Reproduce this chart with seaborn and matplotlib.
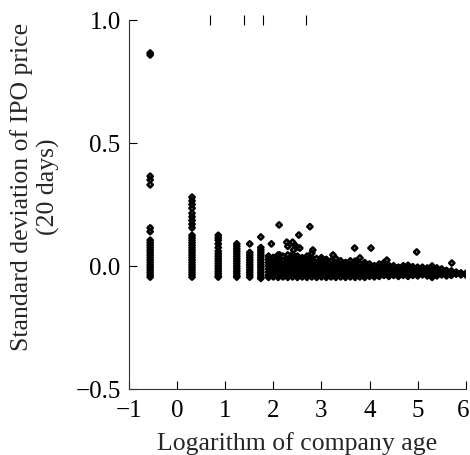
import matplotlib
matplotlib.use("Agg")
import matplotlib.pyplot as plt
import matplotlib.transforms as mtransforms
import seaborn as sns
import pandas as pd

# ---- data ----
# discrete columns of young companies
col_x = [-0.56, 0.31, 0.855, 1.24, 1.51, 1.74]
col_y = [
    [0.866, 0.858, 0.365, 0.35, 0.33, 0.155, 0.14, 0.105, 0.095, 0.085, 0.075,
     0.065, 0.055, 0.045, 0.035, 0.025, 0.015, 0.005, -0.005, -0.015, -0.025,
     -0.035, -0.045],
    [0.28, 0.265, 0.25, 0.235, 0.215, 0.20, 0.185, 0.17, 0.155, 0.125, 0.115,
     0.105, 0.095, 0.085, 0.075, 0.065, 0.055, 0.045, 0.035, 0.025, 0.015,
     0.005, -0.005, -0.015, -0.025, -0.035, -0.045],
    [0.125, 0.115, 0.105, 0.09, 0.075, 0.06, 0.05, 0.04, 0.03, 0.02, 0.01,
     0.00, -0.01, -0.02, -0.03, -0.04, -0.045],
    [0.09, 0.08, 0.07, 0.06, 0.05, 0.04, 0.03, 0.02, 0.01, 0.00, -0.01,
     -0.02, -0.03, -0.04, -0.045],
    [0.09, 0.055, 0.045, 0.035, 0.025, 0.015, 0.005, -0.005, -0.015, -0.025,
     -0.035, -0.045],
    [0.118, 0.075, 0.065, 0.055, 0.045, 0.035, 0.025, 0.015, 0.005, -0.005,
     -0.015, -0.025, -0.035, -0.045, -0.05],
]

# dense band of older companies: x positions and the y values at each
band_x = [1.9, 2.0, 2.1, 2.2, 2.3, 2.4, 2.5, 2.6, 2.7, 2.8, 2.9, 3.0, 3.1,
          3.2, 3.3, 3.4, 3.5, 3.6, 3.7, 3.8, 3.9, 4.0, 4.1, 4.2, 4.3, 4.4,
          4.5, 4.6, 4.7, 4.8, 4.9, 5.0, 5.1, 5.2, 5.3, 5.4, 5.5, 5.6, 5.7,
          5.8, 5.9, 6.0]
band_y = [
    [0.040, 0.027, 0.014, 0.001, -0.012, -0.025, -0.038, -0.046],
    [0.035, 0.021, 0.008, -0.005, -0.018, -0.031, -0.044],
    [0.045, 0.027, 0.014, 0.001, -0.012, -0.025, -0.038, -0.046],
    [0.040, 0.021, 0.008, -0.005, -0.018, -0.031, -0.044],
    [0.045, 0.027, 0.014, 0.001, -0.012, -0.025, -0.038, -0.046],
    [0.047, 0.034, 0.021, 0.008, -0.005, -0.018, -0.031, -0.044],
    [0.040, 0.027, 0.014, 0.001, -0.012, -0.025, -0.038, -0.046],
    [0.034, 0.021, 0.008, -0.005, -0.018, -0.031, -0.044],
    [0.040, 0.027, 0.014, 0.001, -0.012, -0.025, -0.038, -0.046],
    [0.052, 0.034, 0.021, 0.008, -0.005, -0.018, -0.031, -0.044],
    [0.030, 0.014, 0.001, -0.012, -0.025, -0.038, -0.046],
    [0.034, 0.021, 0.008, -0.005, -0.018, -0.031, -0.044],
    [0.027, 0.014, 0.001, -0.012, -0.025, -0.038, -0.046],
    [0.021, 0.008, -0.005, -0.018, -0.031, -0.044],
    [0.030, 0.014, 0.001, -0.012, -0.025, -0.038, -0.046],
    [0.021, 0.008, -0.005, -0.018, -0.031, -0.044],
    [0.014, 0.001, -0.012, -0.025, -0.038, -0.046],
    [0.021, 0.008, -0.005, -0.018, -0.031, -0.044],
    [0.020, 0.014, 0.001, -0.012, -0.025, -0.038, -0.046],
    [0.008, -0.005, -0.018, -0.031, -0.044],
    [0.014, 0.001, -0.012, -0.025, -0.038, -0.046],
    [0.008, -0.005, -0.018, -0.031, -0.042],
    [0.001, -0.012, -0.025, -0.038, -0.044],
    [0.008, -0.005, -0.018, -0.031, -0.042],
    [0.014, 0.001, -0.012, -0.025, -0.038],
    [0.003, -0.005, -0.018, -0.031, -0.042],
    [0.001, -0.012, -0.025, -0.038],
    [-0.005, -0.018, -0.031, -0.042],
    [0.001, -0.012, -0.025, -0.038],
    [0.003, -0.005, -0.018, -0.031, -0.042],
    [-0.003, -0.012, -0.025, -0.038],
    [-0.005, -0.018, -0.031, -0.040],
    [-0.005, -0.012, -0.025, -0.036],
    [-0.008, -0.018, -0.031, -0.040],
    [0.000, -0.012, -0.025, -0.036, -0.046],
    [-0.008, -0.018, -0.031, -0.040],
    [-0.012, -0.025, -0.036],
    [-0.018, -0.031, -0.040],
    [-0.020, -0.030, -0.038],
    [-0.025, -0.033],
    [-0.028, -0.036],
    [-0.030, -0.036],
]

# scattered higher points above the band
out_x = [2.12, 2.76, 2.53, 1.96, 2.28, 2.40, 2.48, 2.42, 2.55, 2.82,
         3.69, 4.03, 4.98, 5.71, 3.24, 2.13, 3.80, 4.36, 2.30, 2.45]
out_y = [0.167, 0.160, 0.126, 0.090, 0.097, 0.097, 0.077, 0.065, 0.073, 0.065,
         0.073, 0.073, 0.057, 0.012, 0.045, 0.045, 0.033, 0.024, 0.080, 0.085]

top_marks = [0.69, 1.40, 1.79, 2.67]

x_ticks = [-1, 0, 1, 2, 3, 4, 5, 6]
y_ticks = [-0.5, 0.0, 0.5, 1.0]

# ---- build table ----
xs, ys = [], []
for cx, cy in zip(col_x, col_y):
    xs += [cx] * len(cy)
    ys += cy
for bx, by in zip(band_x, band_y):
    xs += [bx] * len(by)
    ys += by
xs += out_x
ys += out_y
df = pd.DataFrame({"age": xs, "sd": ys})

# ---- plot ----
sns.set_style("ticks")
plt.rcParams["font.family"] = ["Liberation Serif", "DejaVu Serif"]

fig = plt.figure(figsize=(4.70, 4.55), dpi=100)
ax = fig.add_axes([0.2745, 0.145, 0.7165, 0.811])

sns.scatterplot(data=df, x="age", y="sd", ax=ax, marker="D", s=7,
                facecolor="none", edgecolor="black", linewidth=1.9,
                legend=False)

ax.set_xlim(-1, 6)
ax.set_ylim(-0.5, 1.0)
ax.set_xticks(x_ticks)
ax.set_yticks(y_ticks)
ax.set_xticklabels([str(t).replace("-", "\u2212") for t in x_ticks])
ax.set_yticklabels([f"{t:.1f}".replace("-", "\u2212") for t in y_ticks])
ax.tick_params(direction="in", length=6, width=0.8, labelsize=18, colors="black")
ax.tick_params(axis="x", pad=8)
ax.tick_params(axis="y", pad=6)

# keep the last x tick label inside the canvas
last = ax.get_xticklabels()[-1]
last.set_transform(last.get_transform() +
                   mtransforms.ScaledTranslation(-3 / 100, 0, fig.dpi_scale_trans))

for s in ("top", "right"):
    ax.spines[s].set_visible(False)
for s in ("left", "bottom"):
    ax.spines[s].set_linewidth(0.8)
    ax.spines[s].set_color("#333333")

sec = ax.secondary_xaxis("top")
sec.set_xticks(top_marks)
sec.set_xticklabels([])
sec.spines["top"].set_visible(False)
sec.tick_params(direction="inout", length=7, width=0.8, colors="black")

ax.set_xlabel("Logarithm of company age", fontsize=18.5, labelpad=7)
ax.set_ylabel("Standard deviation of IPO price\n(20 days)", fontsize=18.5,
              linespacing=1.2)
ax.yaxis.set_label_coords(-0.205, 0.547)

fig.savefig("out.png", dpi=100)
